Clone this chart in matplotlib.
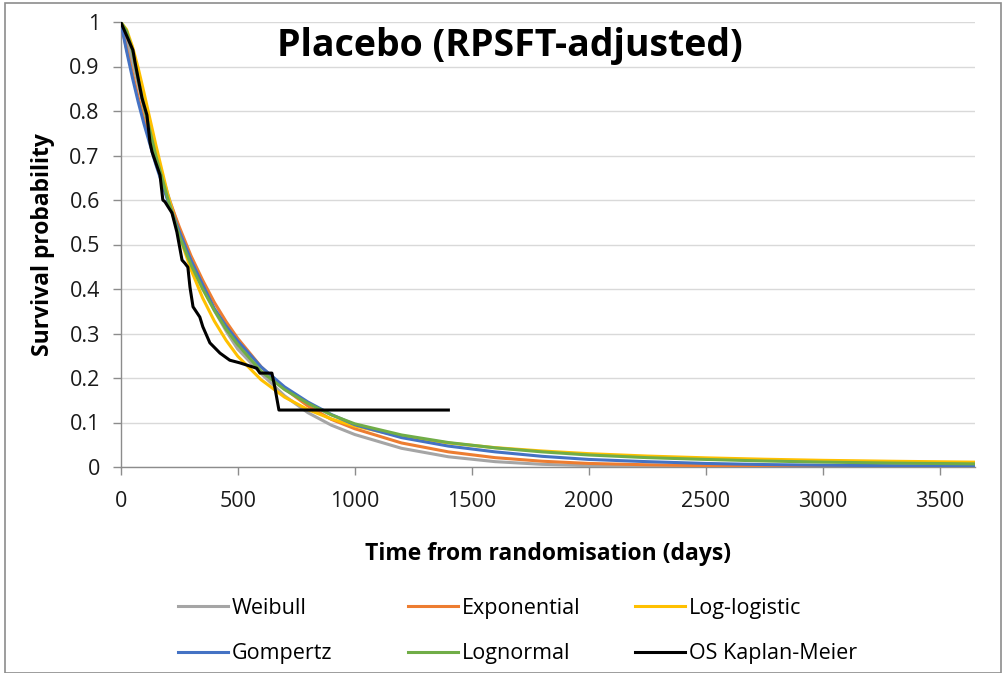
import matplotlib
matplotlib.use("Agg")
import matplotlib.pyplot as plt
from matplotlib.patches import Rectangle

# time grid (days) for the fitted curves
TIMES = [0, 25, 50, 75, 100, 150, 200, 250, 300, 350, 400, 450, 500, 600, 700,
         800, 900, 1000, 1200, 1400, 1600, 1800, 2000, 2250, 2500, 2750, 3000, 3300, 3650]

WEIBULL = [1, 0.96, 0.91, 0.86, 0.805, 0.705, 0.615, 0.535, 0.465, 0.405, 0.352, 0.306, 0.265,
           0.21, 0.16, 0.122, 0.094, 0.073, 0.042, 0.023, 0.012, 0.006, 0.003, 0.001, 0, 0, 0, 0, 0]
EXPONENTIAL = [1, 0.94, 0.885, 0.83, 0.78, 0.69, 0.61, 0.54, 0.475, 0.42, 0.37, 0.327, 0.289,
               0.225, 0.176, 0.137, 0.107, 0.086, 0.054, 0.034, 0.021, 0.013, 0.008, 0.005,
               0.003, 0.0015, 0.001, 0, 0]
LOGLOGISTIC = [1, 0.983, 0.945, 0.896, 0.84, 0.724, 0.615, 0.521, 0.444, 0.38, 0.328, 0.285, 0.249,
               0.196, 0.157, 0.129, 0.108, 0.092, 0.069, 0.054, 0.0435, 0.036, 0.030, 0.0246,
               0.0206, 0.0175, 0.015, 0.0129, 0.0109]
GOMPERTZ = [1, 0.935, 0.875, 0.82, 0.77, 0.68, 0.60, 0.53, 0.465, 0.41, 0.356, 0.317, 0.283,
            0.225, 0.180, 0.146, 0.118, 0.095, 0.066, 0.047, 0.034, 0.024, 0.017, 0.012,
            0.008, 0.0055, 0.004, 0.003, 0.002]
LOGNORMAL = [1, 0.98, 0.935, 0.87, 0.81, 0.70, 0.605, 0.52, 0.455, 0.40, 0.352, 0.31, 0.275,
             0.215, 0.174, 0.143, 0.117, 0.097, 0.072, 0.055, 0.043, 0.034, 0.027, 0.021,
             0.017, 0.0135, 0.011, 0.0088, 0.007]

# Kaplan-Meier
KM_T = [0, 52, 61, 91, 112, 125, 134, 168, 180, 189, 219, 240, 262, 274, 287, 296, 309, 338,
        351, 381, 411, 424, 466, 509, 581, 595, 646, 659, 676, 1400]
KM_S = [1, 0.937, 0.910, 0.829, 0.791, 0.730, 0.708, 0.656, 0.600, 0.596, 0.571, 0.528, 0.465,
        0.458, 0.449, 0.404, 0.360, 0.337, 0.315, 0.279, 0.263, 0.256, 0.240, 0.234, 0.222,
        0.211, 0.211, 0.178, 0.128, 0.128]

SERIES = [
    ("Weibull", WEIBULL, "#A5A5A5"),
    ("Exponential", EXPONENTIAL, "#ED7D31"),
    ("Log-logistic", LOGLOGISTIC, "#FFC000"),
    ("Gompertz", GOMPERTZ, "#4472C4"),
    ("Lognormal", LOGNORMAL, "#70AD47"),
]

W, H = 1005, 673
LW = 2.2
FS = 15.5

plt.rcParams.update({"font.family": ["Open Sans", "DejaVu Sans"], "font.size": FS})

fig = plt.figure(figsize=(W / 100, H / 100), dpi=100)
ax = fig.add_axes([120.7 / W, 1 - 467 / H, (975 - 120.7) / W, (467 - 22) / H])

handles = {}
for name, vals, color in SERIES:
    (ln,) = ax.plot(TIMES, vals, color=color, lw=LW, solid_joinstyle="round", zorder=3)
    handles[name] = ln
(km,) = ax.plot(KM_T, KM_S, color="black", lw=LW, zorder=4)
handles["OS Kaplan-Meier"] = km

ax.set_xlim(0, 3650)
ax.set_ylim(0, 1)
ax.set_xticks(range(0, 3501, 500))
ax.set_yticks([i / 10 for i in range(11)])
ax.set_yticklabels(["0"] + [f"{i / 10:.1f}" for i in range(1, 10)] + ["1"])
ax.grid(axis="y", color="#d9d9d9", lw=1.0, zorder=0)
ax.set_axisbelow(True)
for s in ("top", "right"):
    ax.spines[s].set_visible(False)
for s in ("left", "bottom"):
    ax.spines[s].set_color("#8c8c8c")
    ax.spines[s].set_linewidth(1.0)
ax.tick_params(direction="out", length=6, width=1, color="#8c8c8c", labelcolor="#1a1a1a",
               labelsize=FS)
ax.tick_params(axis="x", pad=11)
ax.tick_params(axis="y", pad=9)

ax.set_xlabel("Time from randomisation (days)", fontweight="bold", fontsize=16.5, labelpad=22)
ax.set_ylabel("Survival probability", fontweight="bold", fontsize=16.5, labelpad=10)

fig.text(510 / W, 1 - 46 / H, "Placebo (RPSFT-adjusted)", ha="center", va="center",
         fontweight="bold", fontsize=27)

# legend: three columns of two entries
cols = [(178, ["Weibull", "Gompertz"]), (408, ["Exponential", "Lognormal"]),
        (635, ["Log-logistic", "OS Kaplan-Meier"])]
for x, names in cols:
    fig.legend([handles[n] for n in names], names, loc="center left",
               bbox_to_anchor=(x / W, 1 - 631 / H), frameon=False, fontsize=FS,
               handlelength=2.3, handletextpad=0.2, labelspacing=1.15, borderpad=0,
               borderaxespad=0)

fig.patches.append(Rectangle((5 / W, 0), (1001 - 5) / W, 1 - 3 / H, transform=fig.transFigure,
                             fill=False, edgecolor="#8c8c8c", lw=1.2))

fig.savefig("out.png", dpi=100)
